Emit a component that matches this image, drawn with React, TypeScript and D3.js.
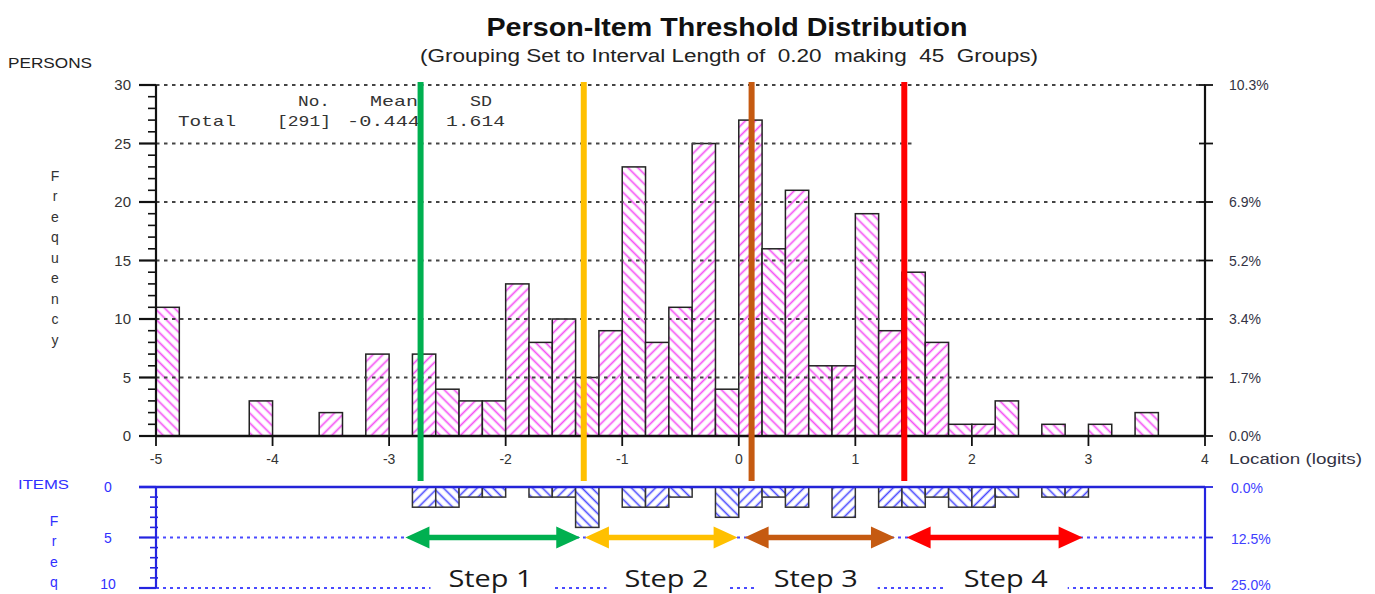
import React from 'react';
import * as d3 from 'd3';

const binStarts = [
  -5.0, -4.8, -4.6, -4.4, -4.2, -4.0, -3.8, -3.6, -3.4, -3.2,
  -3.0, -2.8, -2.6, -2.4, -2.2, -2.0, -1.8, -1.6, -1.4, -1.2,
  -1.0, -0.8, -0.6, -0.4, -0.2, 0.0, 0.2, 0.4, 0.6, 0.8,
  1.0, 1.2, 1.4, 1.6, 1.8, 2.0, 2.2, 2.4, 2.6, 2.8,
  3.0, 3.2, 3.4, 3.6, 3.8,
];
const binWidth = 0.2;
const personCounts = [
  11, 0, 0, 0, 3, 0, 0, 2, 0, 7,
  0, 7, 4, 3, 3, 13, 8, 10, 5, 9,
  23, 8, 11, 25, 4, 27, 16, 21, 6, 6,
  19, 9, 14, 8, 1, 1, 3, 0, 1, 0,
  1, 0, 2, 0, 0,
];
const itemCounts = [
  0, 0, 0, 0, 0, 0, 0, 0, 0, 0,
  0, 2, 2, 1, 1, 0, 1, 1, 4, 0,
  2, 2, 1, 0, 3, 2, 1, 2, 0, 3,
  0, 2, 2, 1, 2, 2, 1, 0, 1, 1,
  0, 0, 0, 0, 0,
];
const thresholds = [-2.73, -1.33, 0.11, 1.42];
const stepColors = ['#00b050', '#ffc000', '#c55a11', '#ff0000'];
const stepStarts = [-2.86, -1.32, 0.05, 1.44];
const stepEnds = [-1.36, -0.01, 1.34, 2.95];
const stepLabels = ['Step 1', 'Step 2', 'Step 3', 'Step 4'];
const stepLabelAt = [-2.13, -0.62, 0.66, 2.29];
const xTicks = [-5, -4, -3, -2, -1, 0, 1, 2, 3, 4];
const personTicks = [0, 5, 10, 15, 20, 25, 30];
const personPct = ['0.0%', '1.7%', '3.4%', '5.2%', '6.9%', '', '10.3%'];
const itemTicks = [0, 5, 10];
const itemPct = ['0.0%', '12.5%', '25.0%'];
const statsHeader = ['No.', 'Mean', 'SD'];
const statsRow = ['Total', '[291]', '-0.444', '1.614'];

const SANS = '"Liberation Sans", Arial, sans-serif';
const MONO = '"Liberation Mono", "Courier New", monospace';

export default function App() {
  const x = d3.scaleLinear().domain([-5, 4]).range([156, 1205]);
  const y = d3.scaleLinear().domain([0, 30]).range([436, 85]);
  const yi = d3.scaleLinear().domain([0, 10]).range([487, 588]);
  const minorP = d3.range(0, 31).filter((v) => v % 5 !== 0);
  const minorI = d3.range(0, 11).filter((v) => v % 5 !== 0);

  const arrow = (xa: number, xb: number, yy: number) => {
    const L = 24, H = 11, t = 2.8;
    return `M${xa},${yy} L${xa + L},${yy - H} L${xa + L},${yy - t} L${xb - L},${yy - t} L${xb - L},${yy - H} L${xb},${yy} L${xb - L},${yy + H} L${xb - L},${yy + t} L${xa + L},${yy + t} L${xa + L},${yy + H} Z`;
  };

  const freqLetters = ['F', 'r', 'e', 'q', 'u', 'e', 'n', 'c', 'y'];
  const itemLetters = ['F', 'r', 'e', 'q'];

  return (
    <svg width={1375} height={594} style={{ position: 'absolute', left: 0, top: 0, background: '#fff' }}>
      <defs>
        <pattern id="pF" width={7} height={7} patternUnits="userSpaceOnUse" patternTransform="rotate(45)">
          <rect width={7} height={7} fill="#fff" />
          <line x1={3.5} y1={0} x2={3.5} y2={7} stroke="#f552f5" strokeWidth={1.7} />
        </pattern>
        <pattern id="pB" width={7} height={7} patternUnits="userSpaceOnUse" patternTransform="rotate(-45)">
          <rect width={7} height={7} fill="#fff" />
          <line x1={3.5} y1={0} x2={3.5} y2={7} stroke="#f552f5" strokeWidth={1.7} />
        </pattern>
        <pattern id="iF" width={7} height={7} patternUnits="userSpaceOnUse" patternTransform="rotate(45)">
          <rect width={7} height={7} fill="#fff" />
          <line x1={3.5} y1={0} x2={3.5} y2={7} stroke="#4848ff" strokeWidth={1.6} />
        </pattern>
        <pattern id="iB" width={7} height={7} patternUnits="userSpaceOnUse" patternTransform="rotate(-45)">
          <rect width={7} height={7} fill="#fff" />
          <line x1={3.5} y1={0} x2={3.5} y2={7} stroke="#4848ff" strokeWidth={1.6} />
        </pattern>
      </defs>

      {/* Title */}
      <text x={727} y={36} textAnchor="middle" fontFamily={SANS} fontWeight="bold" fontSize={25} fill="#111" textLength={481} lengthAdjust="spacingAndGlyphs">
        Person-Item Threshold Distribution
      </text>
      <text x={729} y={62} textAnchor="middle" fontFamily={SANS} fontSize={18} fill="#222" textLength={618} lengthAdjust="spacingAndGlyphs" style={{ whiteSpace: 'pre' }}>
        {'(Grouping Set to Interval Length of  0.20  making  45  Groups)'}
      </text>
      <text x={8} y={68} fontFamily={SANS} fontSize={14} fill="#222" textLength={84} lengthAdjust="spacingAndGlyphs">PERSONS</text>

      {/* Frequency letters */}
      {freqLetters.map((c, i) => (
        <text key={'f' + i} x={55} y={176 + i * 20.5} dy="0.35em" textAnchor="middle" fontFamily={SANS} fontSize={14} fill="#333">{c}</text>
      ))}

      {/* Person bars */}
      {binStarts.map((b, i) =>
        personCounts[i] > 0 ? (
          <rect key={'pb' + i} x={x(b)} y={y(personCounts[i])} width={x(b + binWidth) - x(b)} height={y(0) - y(personCounts[i])}
            fill={i % 2 === 0 ? 'url(#pB)' : 'url(#pF)'} stroke="#222" strokeWidth={1.5} />
        ) : null
      )}

      {/* Gridlines */}
      {personTicks.filter((t) => t > 0).map((t) => (
        <line key={'g' + t} x1={x(-5)} x2={t === 25 ? 912 : x(4)} y1={y(t)} y2={y(t)} stroke="#444" strokeWidth={2} strokeDasharray="3.5,4.5" />
      ))}

      {/* Stats */}
      <text x={298} y={106} fontFamily={MONO} fontSize={15} fill="#333" textLength={32} lengthAdjust="spacingAndGlyphs">{statsHeader[0]}</text>
      <text x={370} y={106} fontFamily={MONO} fontSize={15} fill="#333" textLength={48} lengthAdjust="spacingAndGlyphs">{statsHeader[1]}</text>
      <text x={470} y={106} fontFamily={MONO} fontSize={15} fill="#333" textLength={22} lengthAdjust="spacingAndGlyphs">{statsHeader[2]}</text>
      <text x={178} y={126} fontFamily={MONO} fontSize={15} fill="#333" textLength={58} lengthAdjust="spacingAndGlyphs">{statsRow[0]}</text>
      <text x={277} y={126} fontFamily={MONO} fontSize={15} fill="#333" textLength={54} lengthAdjust="spacingAndGlyphs">{statsRow[1]}</text>
      <text x={347} y={126} fontFamily={MONO} fontSize={15} fill="#333" textLength={73} lengthAdjust="spacingAndGlyphs">{statsRow[2]}</text>
      <text x={446} y={126} fontFamily={MONO} fontSize={15} fill="#333" textLength={59} lengthAdjust="spacingAndGlyphs">{statsRow[3]}</text>

      {/* Left axis */}
      <line x1={x(-5)} x2={x(-5)} y1={y(30)} y2={y(0)} stroke="#111" strokeWidth={2.2} />
      {personTicks.map((t) => (
        <g key={'lt' + t}>
          <line x1={139} x2={x(-5)} y1={y(t)} y2={y(t)} stroke="#111" strokeWidth={2.2} />
          <text x={131} y={y(t)} dy="0.36em" textAnchor="end" fontFamily={SANS} fontSize={15} fill="#333">{t}</text>
        </g>
      ))}
      {minorP.map((t) => (
        <line key={'mp' + t} x1={148} x2={x(-5)} y1={y(t)} y2={y(t)} stroke="#111" strokeWidth={1.6} />
      ))}

      {/* Right axis */}
      <line x1={x(4)} x2={x(4)} y1={y(30)} y2={y(0)} stroke="#111" strokeWidth={2.2} />
      {personTicks.map((t, i) => (
        <g key={'rt' + t}>
          <line x1={x(4) - 6} x2={x(4) + 8} y1={y(t)} y2={y(t)} stroke="#111" strokeWidth={1.8} />
          {personPct[i] ? (
            <text x={1229} y={y(t)} dy="0.36em" fontFamily={SANS} fontSize={14} fill="#333344">{personPct[i]}</text>
          ) : null}
        </g>
      ))}

      {/* X axis */}
      <line x1={x(-5)} x2={x(4)} y1={y(0)} y2={y(0)} stroke="#111" strokeWidth={2.5} />
      {xTicks.map((t) => (
        <g key={'xt' + t}>
          <line x1={x(t)} x2={x(t)} y1={y(0)} y2={y(0) + 10} stroke="#111" strokeWidth={1.8} />
          <text x={x(t)} y={459} dy="0.36em" textAnchor="middle" fontFamily={SANS} fontSize={14} fill="#333">{t}</text>
        </g>
      ))}
      <text x={1229} y={459} dy="0.36em" fontFamily={SANS} fontSize={14} fill="#333344" textLength={133} lengthAdjust="spacingAndGlyphs">Location (logits)</text>

      {/* Items panel */}
      <text x={18} y={484} dy="0.36em" fontFamily={SANS} fontSize={13} fill="#3030ff" textLength={51} lengthAdjust="spacingAndGlyphs">ITEMS</text>
      {itemLetters.map((c, i) => (
        <text key={'il' + i} x={54} y={521 + i * 20.3} dy="0.35em" textAnchor="middle" fontFamily={SANS} fontSize={14} fill="#3030ff">{c}</text>
      ))}

      {/* Item gridlines */}
      {itemTicks.filter((t) => t > 0).map((t) => (
        <line key={'ig' + t} x1={x(-5)} x2={x(4)} y1={yi(t)} y2={yi(t)} stroke="#4a4aff" strokeWidth={2} strokeDasharray="3,4" />
      ))}

      {/* Item bars */}
      {binStarts.map((b, i) =>
        itemCounts[i] > 0 ? (
          <rect key={'ib' + i} x={x(b)} y={yi(0)} width={x(b + binWidth) - x(b)} height={yi(itemCounts[i]) - yi(0)}
            fill={i % 2 === 0 ? 'url(#iB)' : 'url(#iF)'} stroke="#333" strokeWidth={1.5} />
        ) : null
      )}

      <line x1={139} x2={x(4)} y1={yi(0)} y2={yi(0)} stroke="#2424d8" strokeWidth={2.5} />
      <line x1={x(-5)} x2={x(-5)} y1={yi(0)} y2={yi(10)} stroke="#2424e0" strokeWidth={2.2} />
      <line x1={x(4)} x2={x(4)} y1={yi(0)} y2={yi(10)} stroke="#2424e0" strokeWidth={2.2} />
      {itemTicks.map((t, i) => (
        <g key={'it' + t}>
          <line x1={139} x2={x(-5)} y1={yi(t)} y2={yi(t)} stroke="#2424e0" strokeWidth={2.2} />
          <line x1={x(4)} x2={x(4) + 8} y1={yi(t)} y2={yi(t)} stroke="#2424e0" strokeWidth={1.8} />
          <text x={108} y={Math.min(yi(t), 584)} dy="0.36em" textAnchor="middle" fontFamily={SANS} fontSize={14} fill="#3030ff">{t}</text>
          <text x={1231} y={Math.min(yi(t) + 1, 585)} dy="0.36em" fontFamily={SANS} fontSize={14} fill="#4040ff">{itemPct[i]}</text>
        </g>
      ))}
      {minorI.map((t) => (
        <line key={'mi' + t} x1={150} x2={x(-5) + 2} y1={yi(t)} y2={yi(t)} stroke="#2424e0" strokeWidth={1.6} />
      ))}

      {/* Step arrows and labels */}
      {stepLabels.map((s, i) => (
        <g key={'s' + i}>
          <path d={arrow(x(stepStarts[i]), x(stepEnds[i]), yi(5))} fill={stepColors[i]} />
          <rect x={x(stepLabelAt[i]) - 60} y={565} width={122} height={29} fill="#fff" />
          <text x={x(stepLabelAt[i])} y={587} textAnchor="middle" fontFamily='"Open Sans", "Noto Sans", sans-serif' fontSize={23} fill="#1a1a1a" textLength={84} lengthAdjust="spacingAndGlyphs">{s}</text>
        </g>
      ))}

      {/* Threshold lines */}
      {thresholds.map((t, i) => (
        <line key={'th' + i} x1={x(t)} x2={x(t)} y1={82} y2={481} stroke={stepColors[i]} strokeWidth={6} />
      ))}
    </svg>
  );
}
